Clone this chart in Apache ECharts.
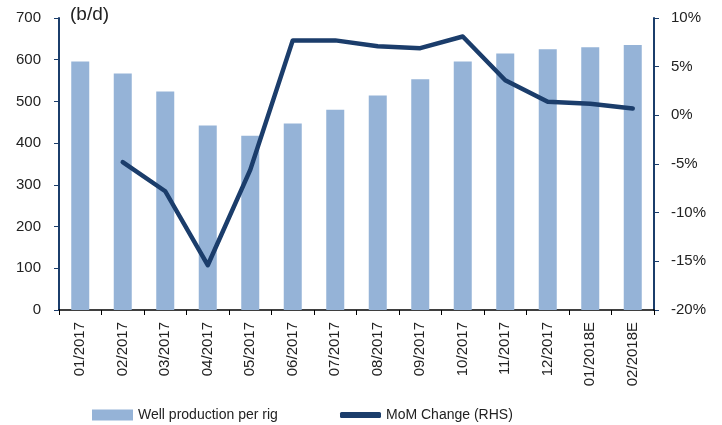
<!DOCTYPE html>
<html>
<head>
<meta charset="utf-8">
<script src="https://cdn.jsdelivr.net/npm/echarts@6/dist/echarts.min.js"></script>
<style>
html,body{margin:0;padding:0;background:#fff;}
#chart{width:722px;height:425px;}
</style>
</head>
<body>
<div id="chart"></div>
<script>
var categories=['01/2017','02/2017','03/2017','04/2017','05/2017','06/2017','07/2017','08/2017','09/2017','10/2017','11/2017','12/2017','01/2018E','02/2018E'];
var wellProd=[596,567,524,442,418,447,480,514,553,596,615,625,630,635];
var momChange=[null,-4.8,-7.8,-15.4,-5.6,7.7,7.7,7.1,6.9,8.1,3.6,1.4,1.2,0.7];
var leftTicks={min:0,max:700,interval:100};
var rightTicks={min:-20,max:10,interval:5};

var barColor='#95b3d7';
var lineColor='#1b3d6b';
var fontFam='Liberation Sans';

var chartObj=echarts.init(document.getElementById('chart'));
var option={
	animation:false,
	textStyle:{fontFamily:fontFam},
	grid:{left:59,right:68,top:18,bottom:115},
	graphic:[
		{type:'text',left:70,top:5,style:{text:'(b/d)',font:'19px '+fontFam,fill:'#222'}}
	],
	legend:[
		{
			left:87,top:403,itemWidth:41,itemHeight:11,itemGap:10,
			textStyle:{fontSize:14,color:'#222',fontFamily:fontFam},
			data:[{name:'Well production per rig',icon:'rect'}]
		},
		{
			left:335,top:403,itemWidth:41,itemHeight:6,
			textStyle:{fontSize:14,color:'#222',fontFamily:fontFam},
			data:[{name:'MoM Change (RHS)',icon:'roundRect'}]
		}
	],
	xAxis:[{
		type:'category',
		data:categories,
		axisLine:{lineStyle:{color:'#000',width:1.5}},
		axisTick:{show:true,length:5,lineStyle:{color:'#000'}},
		axisLabel:{rotate:90,fontSize:15,color:'#222',margin:12,fontFamily:fontFam,interval:0}
	}],
	yAxis:[
		{
			type:'value',
			min:leftTicks.min,max:leftTicks.max,interval:leftTicks.interval,
			axisLine:{show:true,lineStyle:{color:lineColor,width:2}},
			axisTick:{show:true,length:5,lineStyle:{color:lineColor}},
			splitLine:{show:false},
			axisLabel:{fontSize:15,color:'#222',margin:18,fontFamily:fontFam}
		},
		{
			type:'value',
			position:'right',
			min:rightTicks.min,max:rightTicks.max,interval:rightTicks.interval,
			axisLine:{show:true,lineStyle:{color:lineColor,width:2}},
			axisTick:{show:true,length:5,lineStyle:{color:lineColor}},
			splitLine:{show:false},
			axisLabel:{fontSize:15,color:'#222',margin:17,fontFamily:fontFam,formatter:'{value}%'}
		}
	],
	series:[
		{
			name:'Well production per rig',
			type:'bar',
			yAxisIndex:0,
			barWidth:18,
			itemStyle:{color:barColor},
			data:wellProd
		},
		{
			name:'MoM Change (RHS)',
			type:'line',
			yAxisIndex:1,
			symbol:'none',
			lineStyle:{color:lineColor,width:4.5,cap:'round',join:'round'},
			itemStyle:{color:lineColor},
			data:momChange
		}
	]
};
chartObj.setOption(option);
</script>
</body>
</html>
